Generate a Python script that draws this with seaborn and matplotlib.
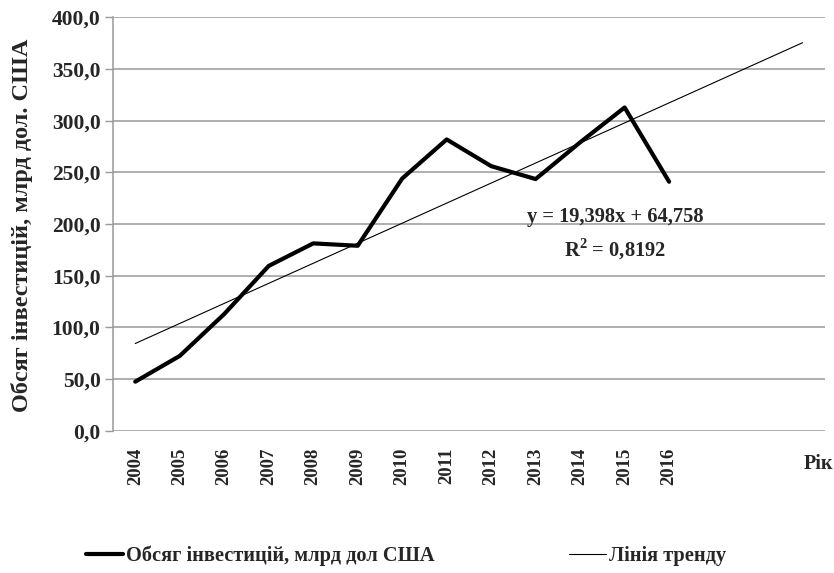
#!/usr/bin/env python3
"""
Investment volume 2004-2016 with linear trend (forecast 3 periods)
"""
import numpy as np
import pandas as pd
import matplotlib
matplotlib.use("Agg")
import matplotlib.pyplot as plt
import seaborn as sns

# data
years = ["2004", "2005", "2006", "2007", "2008", "2009", "2010",
         "2011", "2012", "2013", "2014", "2015", "2016"]
investment = [47.6, 72.5, 113.0, 159.5, 181.3, 179.0, 244.0,
              281.8, 256.0, 243.5, 279.0, 312.7, 240.9]
forecast_periods = 3
eq_text = "y = 19,398x + 64,758"
r2_text = "R$^{2}$ = 0,8192"
y_ticks = [0, 50, 100, 150, 200, 250, 300, 350, 400]

sns.set_style("white")
plt.rcParams['font.family'] = ['Liberation Serif', 'DejaVu Serif']
plt.rcParams['font.weight'] = 'bold'
plt.rcParams['mathtext.fontset'] = 'custom'
plt.rcParams['mathtext.rm'] = 'Liberation Serif:bold'

n_total = len(years) + forecast_periods
df = pd.DataFrame({"pos": np.arange(len(years)), "value": investment})

# linear trend on 1-based index, like Excel
x_fit = np.arange(1, len(years) + 1)
slope, intercept = np.polyfit(x_fit, investment, 1)
trend_x = np.arange(1, n_total + 1)
trend_df = pd.DataFrame({"pos": trend_x - 1, "value": slope * trend_x + intercept})

fig = plt.figure(figsize=(8.34, 5.73), dpi=100)
ax = fig.add_axes([0.1355, 0.248, 0.8535, 0.722])

sns.lineplot(data=df, x="pos", y="value", ax=ax, color="black", linewidth=3.0,
             label="Обсяг інвестицій, млрд дол США")
sns.lineplot(data=trend_df, x="pos", y="value", ax=ax, color="black", linewidth=0.8,
             label="Лінія тренду")

ax.set_xlim(-0.5, n_total - 0.5)
ax.set_ylim(0, 400)
ax.set_yticks(y_ticks)
ax.set_yticklabels([f"{v:.1f}".replace(".", ",") for v in y_ticks], fontsize=15.5, fontweight='bold')
ax.set_xticks(range(len(years)))
ax.set_xticklabels(years, rotation=90, fontsize=13.5, fontweight='bold')
ax.tick_params(axis='x', length=0, pad=12)
ax.tick_params(axis='y', length=6, color='#999999', width=1, direction='out', pad=3, left=True)

ax.yaxis.grid(True, color='#999999', linewidth=1.1)
ax.set_axisbelow(True)
for s in ['top', 'right', 'bottom']:
    ax.spines[s].set_visible(False)
ax.spines['left'].set_color('#999999')
ax.spines['left'].set_linewidth(1.1)

ax.set_xlabel("")
ax.set_ylabel("")
fig.text(0.026, 0.607, "Обсяг інвестицій, млрд дол. США", rotation=90,
         ha='center', va='center', fontsize=17.5, fontweight='bold')
fig.text(0.981, 0.19, "Рік", ha='center', va='center', fontsize=14.5, fontweight='bold')

# trend equation
ax.text(10.79, 207, eq_text, ha='center', va='center', fontsize=14.8, fontweight='bold')
ax.text(10.79, 176, r2_text, ha='center', va='center', fontsize=14.8, fontweight='bold')

ax.get_legend().remove()
handles, labels = ax.get_legend_handles_labels()
fig.legend(handles, labels, loc='center', bbox_to_anchor=(0.487, 0.03), ncol=2,
           frameon=False, fontsize=14.7, handlelength=1.8, handletextpad=0.15,
           columnspacing=6.6)

plt.savefig("out.png", dpi=100)
plt.close()
